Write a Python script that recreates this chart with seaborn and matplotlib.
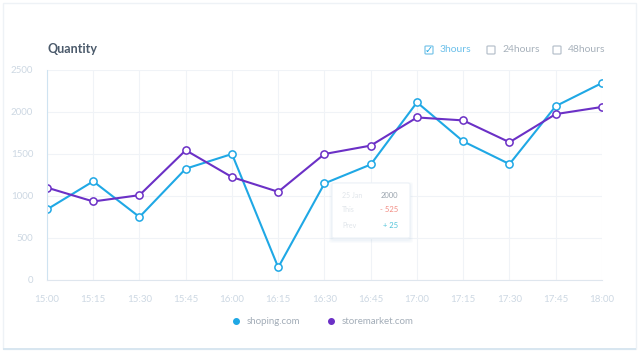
import pandas as pd
import numpy as np
import matplotlib.pyplot as plt
import seaborn as sns
from matplotlib.patches import FancyBboxPatch, Rectangle
from matplotlib.lines import Line2D

sns.set_style("white")
plt.rcParams['font.family'] = ['Lato', 'DejaVu Sans']

times = ["15:00", "15:15", "15:30", "15:45", "16:00", "16:15", "16:30",
         "16:45", "17:00", "17:15", "17:30", "17:45", "18:00"]
shoping = [840, 1175, 750, 1325, 1500, 150, 1150, 1375, 2115, 1650, 1380, 2070, 2345]
storemarket = [1100, 935, 1010, 1545, 1225, 1050, 1500, 1600, 1935, 1900, 1640, 1975, 2060]
series_names = ["shoping.com", "storemarket.com"]
yticks = [0, 500, 1000, 1500, 2000, 2500]

blue = "#1fa8e5"
purple = "#6b30c6"
tick_col = "#cdd8e3"
grid_col = "#f0f3f7"

df = pd.DataFrame({
    "pos": list(range(len(times))) * 2,
    "value": shoping + storemarket,
    "site": [series_names[0]] * len(times) + [series_names[1]] * len(times),
})

fig = plt.figure(figsize=(6.4, 3.53), dpi=100)
fig.patch.set_facecolor("white")

# card outline + bottom shadow
fig.patches.append(Rectangle((0.004, 0.012), 0.99, 0.98, transform=fig.transFigure,
                             fill=False, edgecolor="#eef2f6", lw=1.0))
fig.patches.append(Rectangle((0.004, 0.008), 0.99, 0.006, transform=fig.transFigure,
                             color="#d8e6f0", lw=0))

ax = fig.add_axes([0.0734, 0.2068, 0.8672, 0.5949])
sns.lineplot(data=df, x="pos", y="value", hue="site",
             palette={series_names[0]: blue, series_names[1]: purple},
             marker="o", markersize=5.2, markerfacecolor="white",
             markeredgewidth=1.1, linewidth=1.5, legend=False, ax=ax)
for line, c in zip(ax.lines, [blue, purple]):
    line.set_markeredgecolor(c)

ax.set_xlim(0, len(times) - 1)
ax.set_ylim(0, 2500)
ax.set_xticks(range(len(times)))
ax.set_xticklabels(times)
ax.set_yticks(yticks)
ax.set_xlabel("")
ax.set_ylabel("")
ax.grid(True, color=grid_col, lw=0.8)
ax.set_axisbelow(True)
ax.tick_params(axis="both", length=0, labelsize=7, colors=tick_col)
ax.tick_params(axis="x", pad=11)
ax.tick_params(axis="y", pad=10)
for s in ["top", "right"]:
    ax.spines[s].set_visible(False)
ax.spines["left"].set_color("#cfe3f1")
ax.spines["bottom"].set_color("#dfe6ee")

# title
fig.text(47 / 640, 1 - 49 / 353, "Quantity", fontsize=9, fontweight="bold",
         color="#4b5a6b", va="center", ha="left")

# checkboxes
boxes = [("3hours", 429, True), ("24hours", 491, False), ("48hours", 557, False)]
for label, x, checked in boxes:
    ec = "#7cc6ea" if checked else "#b8c2cc"
    fig.patches.append(FancyBboxPatch(((x - 4) / 640, 1 - 54 / 353), 8 / 640, 8 / 353,
                                      boxstyle="round,pad=0,rounding_size=0.002",
                                      transform=fig.transFigure, fill=False,
                                      edgecolor=ec, lw=0.9))
    if checked:
        fig.text(x / 640, 1 - 50 / 353, "\u2713", fontsize=7, color=blue,
                 ha="center", va="center", family=["DejaVu Sans"])
    fig.text((x + 11) / 640, 1 - 50 / 353, label, fontsize=7.5,
             color="#6cc0ea" if checked else "#a7b1bb", ha="left", va="center")

# tooltip with soft shadow
for i, a in enumerate([0.05, 0.05, 0.06]):
    g = 3 - i
    fig.patches.append(FancyBboxPatch(((332 - g) / 640, 1 - (240 + g) / 353),
                                      (78 + 2 * g) / 640, (55 + 2 * g) / 353,
                                      boxstyle="round,pad=0,rounding_size=0.006",
                                      transform=fig.transFigure, facecolor="#9fc3dd",
                                      alpha=a, lw=0, zorder=4))
tip = FancyBboxPatch((332 / 640, 1 - 238 / 353), 78 / 640, 55 / 353,
                     boxstyle="round,pad=0,rounding_size=0.004",
                     transform=fig.transFigure, facecolor="white",
                     edgecolor="#edf2f7", lw=0.8, zorder=5)
fig.patches.append(tip)
rows = [("25 Jan", "2000", "#9aa4ae", 195), ("This", "- 525", "#f28b82", 210),
        ("Prev", "+ 25", "#4fc3d9", 225)]
for left, right, col, y in rows:
    fig.text(342 / 640, 1 - y / 353, left, fontsize=5, color="#e0e5ea",
             ha="left", va="center", zorder=6)
    fig.text(398 / 640, 1 - y / 353, right, fontsize=5.5, color=col,
             ha="right", va="center", zorder=6)

# legend
handles = [Line2D([], [], marker="o", ls="", color=c, markersize=4) for c in [blue, purple]]
fig.legend(handles, series_names, loc="center", bbox_to_anchor=(0.5, 1 - 322 / 353),
           ncol=2, frameon=False, fontsize=7, labelcolor="#a3adb8",
           handletextpad=0.1, columnspacing=2.2)

fig.savefig("out.png", dpi=100)
